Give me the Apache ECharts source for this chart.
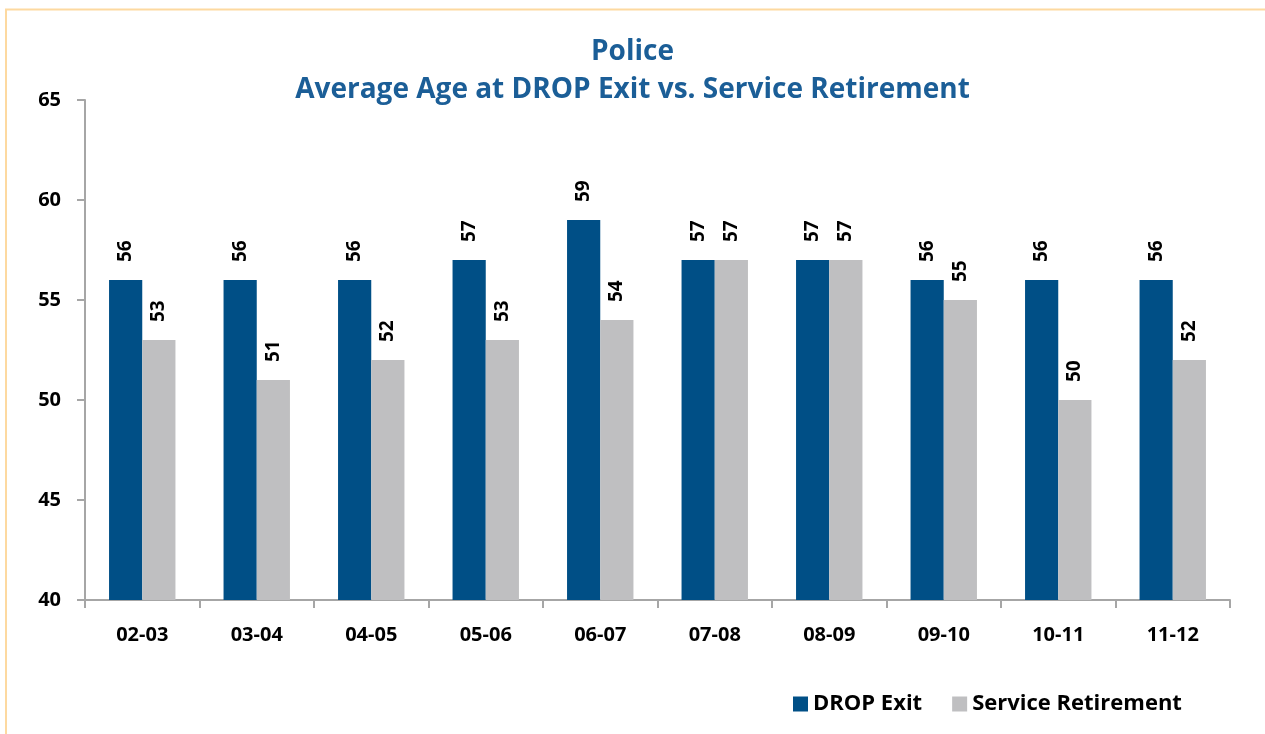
<!DOCTYPE html>
<html><head><meta charset="utf-8">
<script src="https://cdn.jsdelivr.net/npm/echarts@6/dist/echarts.min.js"></script>
<style>html,body{margin:0;padding:0;background:#fff}#c{width:1265px;height:734px}</style>
</head><body><div id="c"></div>
<script>
const categories = ['02-03','03-04','04-05','05-06','06-07','07-08','08-09','09-10','10-11','11-12'];
const dropExit = [56,56,56,57,59,57,57,56,56,56];
const serviceRetirement = [53,51,52,53,54,57,57,55,50,52];
const yTicks = [40,45,50,55,60,65];

const chart = echarts.init(document.getElementById('c'));
const font = '"Open Sans", "Noto Sans", sans-serif';
const lbl = {show:true, position:'top', rotate:90, align:'left', verticalAlign:'middle', distance:18,
  color:'#000', fontWeight:'bold', fontSize:19, fontFamily:font};
chart.setOption({
  backgroundColor:'#fff',
  graphic:[
    {type:'line', shape:{x1:5,y1:9.5,x2:1265,y2:9.5}, style:{stroke:'#FDD9A0',lineWidth:2}},
    {type:'line', shape:{x1:6,y1:9,x2:6,y2:734}, style:{stroke:'#FDD9A0',lineWidth:2}}
  ],
  title:{text:'Police\nAverage Age at DROP Exit vs. Service Retirement', left:'center', top:28,
    textStyle:{color:'#1B5E97', fontSize:28, fontWeight:'bold', fontFamily:font, lineHeight:38}},
  legend:{data:['DROP Exit','Service Retirement'], left:788, top:688, itemWidth:15, itemHeight:15, itemGap:30,
    icon:'rect', textStyle:{color:'#000', fontSize:22, fontWeight:'bold', fontFamily:font}},
  grid:{left:85, right:35, top:100, bottom:134},
  xAxis:{type:'category', data:categories,
    axisLine:{lineStyle:{color:'#A6A6A6', width:2}},
    axisTick:{show:true, length:8, lineStyle:{color:'#A6A6A6', width:2}},
    axisLabel:{color:'#000', fontSize:20, fontWeight:'bold', fontFamily:font, margin:25}},
  yAxis:{type:'value', min:40, max:65, interval:5,
    axisLine:{show:true, lineStyle:{color:'#A6A6A6', width:2}},
    axisTick:{show:true, length:8, lineStyle:{color:'#A6A6A6', width:2}},
    splitLine:{show:false},
    axisLabel:{color:'#000', fontSize:20, fontWeight:'bold', fontFamily:font, margin:24,
      formatter:v=>yTicks.includes(v)?String(v):''}},
  series:[
    {name:'DROP Exit', type:'bar', data:dropExit, itemStyle:{color:'#004F86'}, barGap:'0%', barCategoryGap:'42%', label:lbl},
    {name:'Service Retirement', type:'bar', data:serviceRetirement, itemStyle:{color:'#BFBFC1'}, label:lbl}
  ]
});
</script></body></html>
